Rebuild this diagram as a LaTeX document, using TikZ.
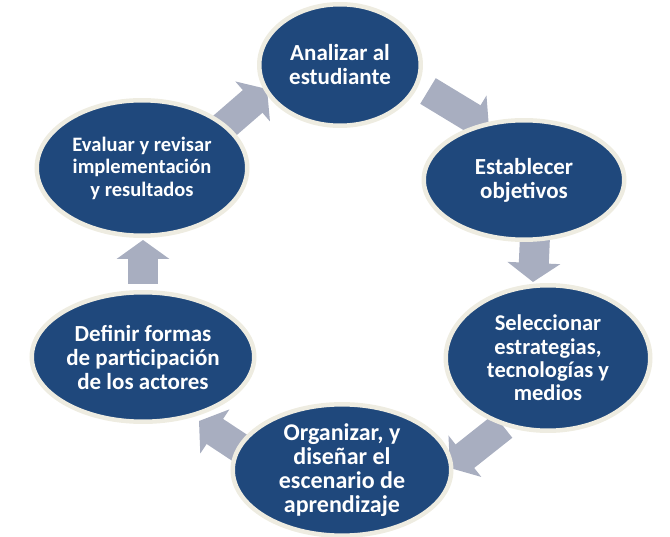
\documentclass[tikz,border=0pt]{standalone}
\usepackage{fontspec}
\setmainfont{Carlito}
\usetikzlibrary{shapes.geometric,arrows.meta}
\definecolor{cycblue}{HTML}{1F487C}
\definecolor{cycring}{HTML}{EEECE1}
\definecolor{cycarrow}{HTML}{A8AEC0}
\tikzset{
  stage/.style={ellipse, fill=cycblue, draw=cycring, line width=4.5pt,
    text=white, align=center, inner sep=0pt,
    font=\fontsize{23}{24}\selectfont\bfseries},
  blockarrow/.style={draw=cycarrow, line width=30pt,
    -{Triangle[length=19pt,width=52pt]}, color=cycarrow}
}
\begin{document}
\begin{tikzpicture}[x=1pt,y=-1pt]
\useasboundingbox (0,0) rectangle (670,537);
% arrow end points
\coordinate (a1s) at (428,91);  \coordinate (a1e) at (489,128);
\coordinate (a2s) at (535,236); \coordinate (a2e) at (533,282);
\coordinate (a3s) at (503,426); \coordinate (a3e) at (450,468);
\coordinate (a4s) at (246,452); \coordinate (a4e) at (199,421);
\coordinate (a5s) at (143,284); \coordinate (a5e) at (143,240);
\coordinate (a6s) at (222,128); \coordinate (a6e) at (267,89);
\draw[blockarrow] (a1s) -- (a1e);
\draw[blockarrow] (a2s) -- (a2e);
\draw[blockarrow] (a3s) -- (a3e);
\draw[blockarrow] (a4s) -- (a4e);
\draw[blockarrow] (a5s) -- (a5e);
\draw[blockarrow] (a6s) -- (a6e);
% stages
\node[stage, minimum width=161.5pt, minimum height=121.5pt] (A) at (340,65) {Analizar al\\estudiante};
\node[stage, minimum width=200.5pt, minimum height=119.5pt] (B) at (524,180) {Establecer\\objetivos};
\node[stage, minimum width=204.5pt, minimum height=145.5pt, font=\fontsize{22.5}{23.3}\selectfont\bfseries] (C) at (548,358) {Seleccionar\\estrategias,\\tecnologías y\\medios};
\node[stage, minimum width=218.5pt, minimum height=127.5pt, font=\fontsize{24}{24}\selectfont\bfseries] (D) at (342,470) {Organizar, y\\diseñar el\\escenario de\\aprendizaje};
\node[stage, minimum width=222.5pt, minimum height=129.5pt] (E) at (143,357) {Definir formas\\de participación\\de los actores};
\node[stage, minimum width=210.5pt, minimum height=135.5pt, font=\fontsize{20.5}{22.5}\selectfont\bfseries] (F) at (142,168) {Evaluar y revisar\\implementación\\y resultados};
\end{tikzpicture}
\end{document}
